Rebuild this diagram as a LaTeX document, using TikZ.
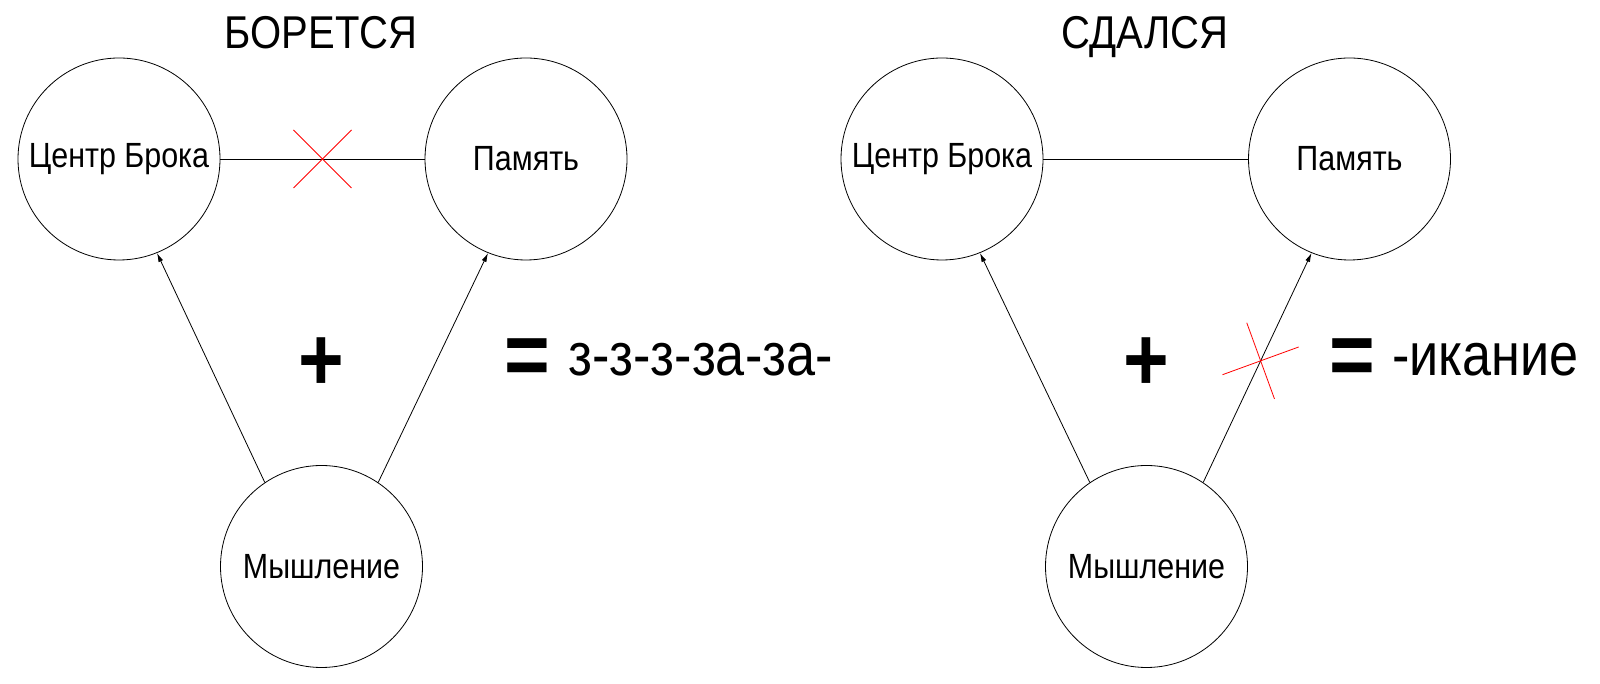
\documentclass[tikz,border=0pt]{standalone}
\usepackage{fontspec}
\setmainfont{Liberation Sans}[FakeStretch=0.87]
\usetikzlibrary{arrows.meta}
\begin{document}
\begin{tikzpicture}[x=1pt,y=1pt,
    area/.style={draw,circle,line width=.8pt,minimum size=202pt,inner sep=0pt,font=\fontsize{35}{40}\selectfont},
    link/.style={line width=.8pt},
    arrowlink/.style={line width=.8pt,-{Latex[length=9pt,width=5pt]}},
    cross/.style={red,line width=.8pt},
    heading/.style={anchor=base,inner sep=0pt,font=\fontsize{46}{50}\selectfont},
    sign/.style={inner sep=0pt,font=\fontsize{90}{100}\selectfont\bfseries},
    result/.style={anchor=base west,inner sep=0pt,font=\fontsize{60}{70}\selectfont}]
  \useasboundingbox (0,0) rectangle (1600,684);
  % борется
  \node[heading] (t1) at (321,635) {БОРЕТСЯ};
  \node[area] (c1) at (119,525) {Центр Брока};
  \node[area] (p1) at (526,525) {Память};
  \node[area] (m1) at (321.5,117.5) {Мышление};
  \draw[link] (c1) -- coordinate (x1) (p1);
  \draw[arrowlink] (m1.124) -- (c1.292);
  \draw[arrowlink] (m1.56) -- (p1.248);
  \draw[cross] ([shift={(-29,-29)}]x1) -- ([shift={(29,29)}]x1);
  \draw[cross] ([shift={(-29,29)}]x1) -- ([shift={(29,-29)}]x1);
  \node[sign] (plus1) at (321.5,320) {+};
  \node[sign] (eq1) at (527.5,322) {=};
  \node[result] (r1) at (568,308) {з-з-з-за-за-};
  % сдался
  \node[heading] (t2) at (1145,635) {СДАЛСЯ};
  \node[area] (c2) at (942,525) {Центр Брока};
  \node[area] (p2) at (1349.5,525) {Память};
  \node[area] (m2) at (1146.5,117.5) {Мышление};
  \draw[link] (c2) -- (p2);
  \draw[arrowlink] (m2.124) -- (c2.292);
  \draw[arrowlink] (m2.56) -- coordinate[pos=.53] (x2) (p2.248);
  \draw[cross] ([shift={(290:40.5)}]x2) -- ([shift={(110:40.5)}]x2);
  \draw[cross] ([shift={(200:40.5)}]x2) -- ([shift={(20:40.5)}]x2);
  \node[sign] (plus2) at (1146,320) {+};
  \node[sign] (eq2) at (1352,322) {=};
  \node[result] (r2) at (1392,308) {-икание};
\end{tikzpicture}
\end{document}
